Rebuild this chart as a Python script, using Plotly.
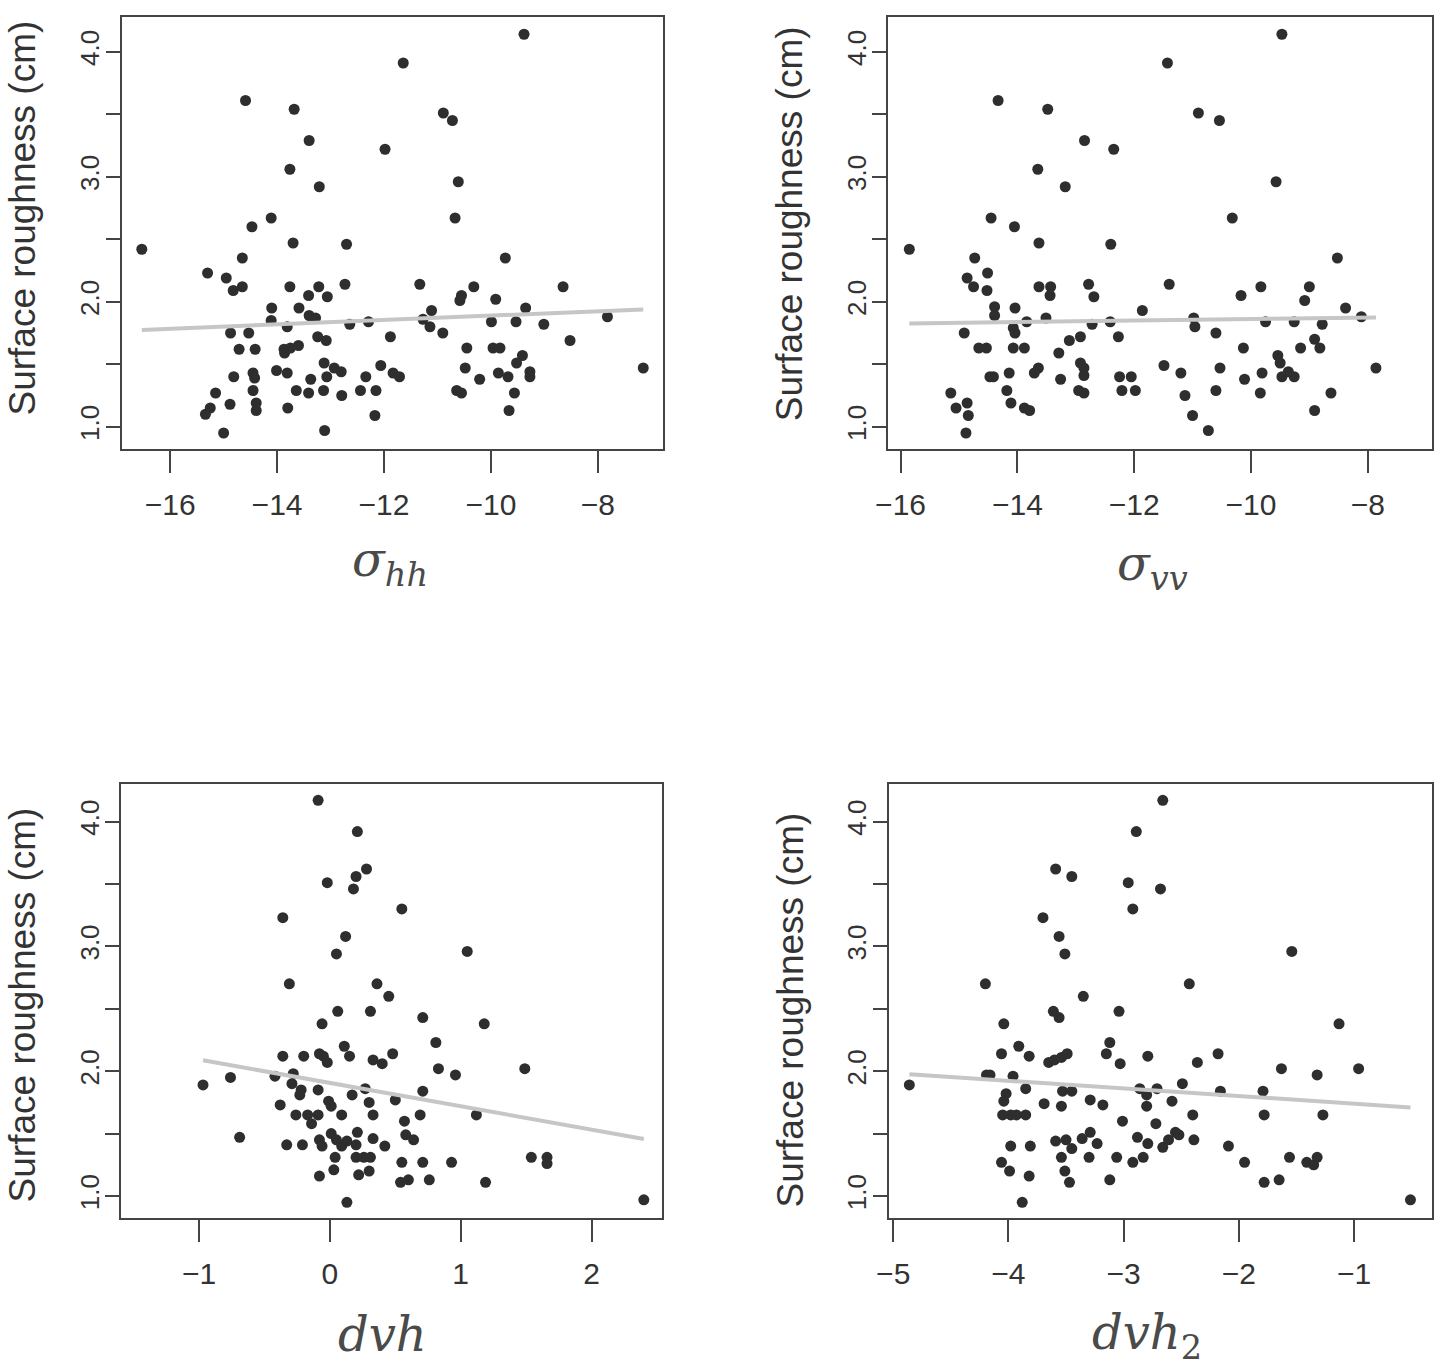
import numpy as np
import plotly.graph_objects as go

W, H = 1435, 1371

# surface roughness (cm) against four radar features
HH_X = [-14.59, -13.68, -13.40, -11.98, -13.76, -13.21, -14.11, -14.47, -16.53, -13.70,
        -12.70, -14.65, -15.30, -14.95, -14.65, -14.82, -13.76, -13.22, -13.41, -13.06,
        -12.73, -14.10, -13.59, -13.40, -13.28, -14.11, -13.81, -12.64, -12.29, -14.87,
        -14.53, -11.88, -13.24, -13.08, -14.71, -14.41, -13.87, -13.60, -13.86, -13.75,
        -13.12, -12.93, -12.80, -12.06, -11.83, -14.81, -14.45, -14.42, -14.01, -13.81,
        -13.37, -13.07, -12.34, -15.15, -14.45, -13.64, -13.41, -13.13, -12.79, -12.44,
        -12.15, -14.88, -15.25, -15.34, -14.39, -14.39, -13.80, -12.17, -15.00, -13.11,
        -9.38, -11.64, -10.89, -10.72, -10.61, -10.67, -9.73, -11.33, -10.32, -10.55,
        -10.58, -9.91, -8.65, -11.11, -9.35, -11.27, -11.14, -10.90, -9.99, -9.53,
        -9.01, -7.82, -8.52, -10.45, -9.96, -9.83, -9.41, -9.52, -10.48, -11.71,
        -10.21, -9.86, -9.68, -9.27, -9.27, -7.15, -10.64, -10.55, -9.56, -9.66]
HH_Y = [3.61, 3.54, 3.29, 3.22, 3.06, 2.92, 2.67, 2.60, 2.42, 2.47,
        2.46, 2.35, 2.23, 2.19, 2.12, 2.09, 2.12, 2.12, 2.05, 2.04,
        2.14, 1.95, 1.95, 1.89, 1.87, 1.85, 1.80, 1.82, 1.84, 1.75,
        1.75, 1.72, 1.72, 1.69, 1.62, 1.62, 1.62, 1.65, 1.59, 1.63,
        1.51, 1.47, 1.44, 1.49, 1.43, 1.40, 1.43, 1.39, 1.45, 1.43,
        1.38, 1.40, 1.40, 1.27, 1.29, 1.29, 1.27, 1.29, 1.25, 1.29,
        1.29, 1.18, 1.15, 1.10, 1.19, 1.13, 1.15, 1.09, 0.95, 0.97,
        4.14, 3.91, 3.51, 3.45, 2.96, 2.67, 2.35, 2.14, 2.12, 2.05,
        2.01, 2.02, 2.12, 1.93, 1.95, 1.86, 1.80, 1.75, 1.84, 1.84,
        1.82, 1.88, 1.69, 1.63, 1.63, 1.63, 1.57, 1.51, 1.47, 1.40,
        1.38, 1.43, 1.40, 1.44, 1.40, 1.47, 1.29, 1.27, 1.27, 1.13]

VV_X = [-14.33, -13.48, -12.85, -12.35, -13.65, -13.18, -14.45, -14.05, -15.85, -13.63,
        -12.40, -14.73, -14.86, -14.51, -14.75, -14.52, -13.63, -13.43, -13.44, -12.78,
        -12.69, -11.86, -14.39, -14.39, -14.04, -13.84, -13.51, -12.72, -12.41, -14.91,
        -14.07, -14.04, -13.11, -12.92, -12.27, -14.66, -14.53, -14.07, -13.88, -13.29,
        -12.92, -12.86, -12.86, -13.64, -13.71, -14.47, -14.41, -14.14, -13.26, -12.25,
        -12.05, -15.14, -14.18, -12.95, -12.86, -12.21, -11.98, -14.86, -15.05, -14.84,
        -14.11, -13.88, -13.79, -14.88,
        -9.47, -11.43, -10.90, -10.54, -9.57, -10.32, -8.52, -11.40, -9.83, -10.17,
        -9.00, -9.08, -8.38, -10.98, -10.96, -10.60, -9.75, -9.26, -8.78, -8.11,
        -8.91, -10.13, -9.15, -8.82, -9.54, -9.50, -11.49, -11.20, -10.53, -9.81,
        -10.11, -9.47, -9.36, -9.26, -7.86, -11.13, -10.60, -9.84, -8.63, -11.00,
        -8.91, -10.73]
VV_Y = [3.61, 3.54, 3.29, 3.22, 3.06, 2.92, 2.67, 2.60, 2.42, 2.47,
        2.46, 2.35, 2.19, 2.23, 2.12, 2.09, 2.12, 2.12, 2.05, 2.14,
        2.04, 1.93, 1.96, 1.89, 1.95, 1.84, 1.87, 1.82, 1.84, 1.75,
        1.79, 1.75, 1.69, 1.72, 1.72, 1.63, 1.63, 1.63, 1.63, 1.59,
        1.51, 1.47, 1.41, 1.47, 1.43, 1.40, 1.40, 1.43, 1.38, 1.40,
        1.40, 1.27, 1.29, 1.29, 1.27, 1.29, 1.29, 1.19, 1.15, 1.09,
        1.19, 1.15, 1.13, 0.95,
        4.14, 3.91, 3.51, 3.45, 2.96, 2.67, 2.35, 2.14, 2.12, 2.05,
        2.12, 2.01, 1.95, 1.87, 1.80, 1.75, 1.84, 1.84, 1.82, 1.88,
        1.70, 1.63, 1.63, 1.63, 1.57, 1.51, 1.49, 1.43, 1.47, 1.43,
        1.38, 1.40, 1.44, 1.40, 1.47, 1.25, 1.29, 1.27, 1.27, 1.09,
        1.13, 0.97]

DVH_X = [-0.09, 0.21, 0.28, 0.20, -0.02, 0.18, -0.36, 0.12, 0.05, -0.31,
         0.36, 0.45, 0.06, 0.31, -0.06, -0.36, -0.20, -0.08, -0.05, -0.02,
         0.11, 0.15, 0.33, 0.40, 0.48, -0.97, -0.76, -0.42, -0.28, -0.29,
         -0.22, -0.23, -0.09, 0.17, 0.27, 0.30, 0.50, -0.38, -0.01, 0.01,
         -0.26, -0.17, -0.09, -0.14, 0.09, 0.33, -0.69, -0.33, -0.21, -0.08,
         -0.06, 0.01, 0.05, 0.09, 0.13, 0.21, 0.20, 0.33, 0.42, 0.04,
         0.20, 0.26, 0.31, 0.03, -0.08, 0.22, 0.30, 0.13,
         0.55, 1.05, 0.71, 1.18, 0.81, 0.83, 0.96, 1.49, 0.71, 0.69,
         1.12, 0.57, 0.58, 0.64, 0.55, 0.71, 0.93, 0.54, 0.60, 0.76,
         1.19, 1.54, 1.66, 1.66, 2.40]
DVH_Y = [4.17, 3.92, 3.62, 3.56, 3.51, 3.46, 3.23, 3.08, 2.94, 2.70,
         2.70, 2.60, 2.48, 2.48, 2.38, 2.12, 2.12, 2.14, 2.12, 2.07,
         2.20, 2.12, 2.09, 2.06, 2.14, 1.89, 1.95, 1.96, 1.98, 1.90,
         1.85, 1.81, 1.85, 1.81, 1.86, 1.75, 1.77, 1.73, 1.76, 1.72,
         1.65, 1.65, 1.65, 1.58, 1.65, 1.65, 1.47, 1.41, 1.41, 1.45,
         1.40, 1.50, 1.45, 1.40, 1.44, 1.51, 1.41, 1.46, 1.40, 1.31,
         1.31, 1.31, 1.31, 1.21, 1.16, 1.17, 1.20, 0.95,
         3.30, 2.96, 2.43, 2.38, 2.23, 2.02, 1.97, 2.02, 1.84, 1.65,
         1.65, 1.60, 1.49, 1.45, 1.27, 1.27, 1.27, 1.11, 1.13, 1.13,
         1.11, 1.31, 1.31, 1.26, 0.97]

DVH2_X = [-2.89, -3.59, -3.45, -2.96, -2.92, -3.70, -3.56, -3.51, -4.20, -3.35,
          -3.61, -3.56, -3.04, -4.04, -3.12, -4.06, -3.91, -3.82, -3.65, -3.60,
          -3.54, -3.49, -3.15, -3.03, -2.79, -4.86, -4.19, -4.16, -3.96, -3.85,
          -4.02, -4.04, -3.53, -3.45, -3.69, -3.54, -3.29, -3.18, -2.86, -2.80,
          -2.80, -4.05, -3.98, -3.93, -3.85, -3.01, -3.98, -3.81, -3.59, -3.50,
          -3.45, -3.54, -3.36, -3.29, -3.23, -3.30, -3.06, -2.92, -2.83, -2.88,
          -2.79, -4.06, -3.99, -3.82, -3.51, -3.47, -3.12, -3.88,
          -2.66, -2.68, -1.54, -2.43, -1.13, -2.36, -2.18, -1.63, -1.32, -0.96,
          -2.71, -2.49, -2.16, -1.79, -2.58, -2.40, -1.78, -1.27, -2.72, -2.66,
          -2.61, -2.55, -2.52, -2.39, -2.09, -1.95, -1.56, -1.41, -1.35, -1.32,
          -1.78, -1.65, -0.51]
DVH2_Y = [3.92, 3.62, 3.56, 3.51, 3.30, 3.23, 3.08, 2.94, 2.70, 2.60,
          2.48, 2.43, 2.48, 2.38, 2.23, 2.14, 2.20, 2.12, 2.07, 2.09,
          2.11, 2.14, 2.14, 2.06, 2.12, 1.89, 1.97, 1.97, 1.96, 1.86,
          1.82, 1.76, 1.84, 1.84, 1.74, 1.72, 1.77, 1.73, 1.86, 1.81,
          1.72, 1.65, 1.65, 1.65, 1.65, 1.60, 1.40, 1.40, 1.44, 1.45,
          1.38, 1.31, 1.46, 1.51, 1.42, 1.31, 1.31, 1.27, 1.31, 1.47,
          1.42, 1.27, 1.20, 1.16, 1.20, 1.11, 1.13, 0.95,
          4.17, 3.46, 2.96, 2.70, 2.38, 2.07, 2.14, 2.02, 1.97, 2.02,
          1.86, 1.90, 1.84, 1.84, 1.76, 1.65, 1.65, 1.65, 1.58, 1.39,
          1.45, 1.51, 1.49, 1.45, 1.40, 1.27, 1.31, 1.27, 1.25, 1.31,
          1.11, 1.13, 0.97]

# linear trend lines as drawn in the figure: (intercept, slope)
HH_FIT = (2.064, 0.0175)
VV_FIT = (1.922, 0.006)
DVH_FIT = (1.906, -0.187)
DVH2_FIT = (1.679, -0.061)

ROUGH_TICKS = [1.0, 1.5, 2.0, 2.5, 3.0, 3.5, 4.0]
ROUGH_TICK_TEXT = ["1.0", "", "2.0", "", "3.0", "", "4.0"]
SIGMA_TICKS = [-16, -14, -12, -10, -8]
DVH_TICKS = [-1, 0, 1, 2]
DVH2_TICKS = [-5, -4, -3, -2, -1]

Y_LABEL = "Surface roughness (cm)"

# box = (left, right, top, bottom) of each plot frame in pixels
PANELS = [
    dict(x=HH_X, y=HH_Y, fit=HH_FIT, ticks=SIGMA_TICKS, xr=[-16.91, -6.79], yr=[0.822, 4.278],
         box=(121.5, 662.5, 17, 449), title="<i>σ</i><sub><i>hh</i></sub>", tpos=(390, 563), ly=218),
    dict(x=VV_X, y=VV_Y, fit=VV_FIT, ticks=SIGMA_TICKS, xr=[-16.21, -6.90], yr=[0.822, 4.278],
         box=(888.3, 1432, 17, 449), title="<i>σ</i><sub><i>vv</i></sub>", tpos=(1152, 566), ly=224),
    dict(x=DVH_X, y=DVH_Y, fit=DVH_FIT, ticks=DVH_TICKS, xr=[-1.594, 2.539], yr=[0.824, 4.301],
         box=(121.4, 662, 784, 1218), title="<i>dvh</i>", tpos=(382, 1334), ly=1005),
    dict(x=DVH2_X, y=DVH2_Y, fit=DVH2_FIT, ticks=DVH2_TICKS, xr=[-5.041, -0.323], yr=[0.824, 4.301],
         box=(888.5, 1432, 784, 1218), title="<i>dvh</i><sub>2</sub>", tpos=(1147, 1335), ly=1010),
]

fig = go.Figure()
annotations = []
for i, p in enumerate(PANELS, start=1):
    sfx = "" if i == 1 else str(i)
    left, right, top, bottom = p["box"]
    fig.add_trace(go.Scatter(
        x=p["x"], y=p["y"], mode="markers", xaxis="x" + sfx, yaxis="y" + sfx,
        marker=dict(size=11, color="#2e2e2e"), showlegend=False,
    ))
    icpt, slope = p["fit"]
    xs = np.array([min(p["x"]), max(p["x"])])
    fig.add_trace(go.Scatter(
        x=xs, y=icpt + slope * xs, mode="lines", xaxis="x" + sfx, yaxis="y" + sfx,
        line=dict(color="#c6c6c6", width=4), showlegend=False,
    ))
    common = dict(showline=True, linecolor="#444444", linewidth=2, mirror=True,
                  ticks="outside", tickcolor="#444444", tickwidth=1.5,
                  showgrid=False, zeroline=False, automargin=False)
    fig.layout["xaxis" + sfx] = dict(
        domain=[left / W, right / W], range=p["xr"], anchor="y" + sfx,
        tickvals=p["ticks"], ticktext=[str(t).replace("-", "−") for t in p["ticks"]],
        ticklen=22, ticklabelstandoff=6,
        tickfont=dict(family="Liberation Sans", size=30, color="#333333"), **common)
    fig.layout["yaxis" + sfx] = dict(
        domain=[1 - bottom / H, 1 - top / H], range=p["yr"], anchor="x" + sfx,
        tickvals=ROUGH_TICKS, ticktext=ROUGH_TICK_TEXT, tickangle=-90,
        ticklen=14, ticklabelstandoff=-4,
        tickfont=dict(family="Liberation Sans", size=26, color="#333333"), **common)
    annotations.append(dict(
        text=Y_LABEL, textangle=-90, xref="paper", yref="paper",
        x=(left - 99) / W, y=1 - p["ly"] / H, xanchor="center", yanchor="middle",
        showarrow=False, font=dict(family="Liberation Sans", size=37, color="#333333")))
    annotations.append(dict(
        text=p["title"], xref="paper", yref="paper",
        x=p["tpos"][0] / W, y=1 - p["tpos"][1] / H, xanchor="center", yanchor="middle",
        showarrow=False, font=dict(family="DejaVu Serif", size=48, color="#4a4a4a")))

fig.update_layout(
    width=W, height=H, margin=dict(l=0, r=0, t=0, b=0),
    paper_bgcolor="white", plot_bgcolor="white", annotations=annotations,
)
# drop the browser's default page margin so the figure sits at the window corner
fig.write_html("out.html", config={"displayModeBar": False},
               post_script="document.body.style.margin = '0';")
